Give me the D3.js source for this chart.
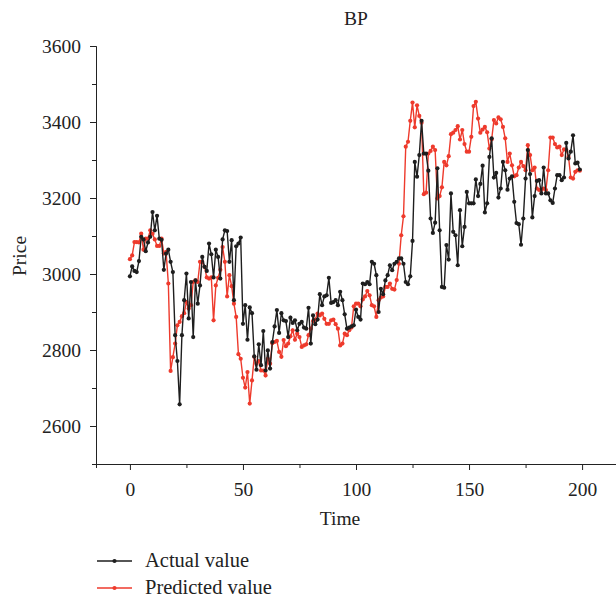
<!DOCTYPE html>
<html>
<head>
<meta charset="utf-8">
<script src="https://cdn.jsdelivr.net/npm/d3@7"></script>
<style>
body { margin: 0; background: #fff; }
text { font-family: "Liberation Serif", "DejaVu Serif", serif; fill: #222; }
</style>
</head>
<body>
<svg></svg>
<script>
var screen = {width: 616, height: 603};
var margins = {top: 46, right: 0, bottom: 139, left: 96};

var title = "BP";
var xTicks = [0, 50, 100, 150, 200];
var yTicks = [2600, 2800, 3000, 3200, 3400, 3600];
var seriesNames = ["Actual value", "Predicted value"];
var seriesColors = ["#1e1e1e", "#ee3a2c"];

// actual price, one value per time step (0..199)
var actual = [
 2994, 3020, 3008, 3005, 3034, 3098, 3091, 3060, 3083, 3098,
 3163, 3115, 3153, 3093, 3090, 3011, 3054, 3064, 3032, 3005,
 2839, 2771, 2657, 2839, 2931, 3001, 2883, 2979, 2834, 2983,
 2922, 2970, 3045, 3019, 3008, 3080, 3052, 2991, 3064, 3045,
 2988, 3091, 3115, 3113, 3032, 3089, 2931, 3073, 3080, 3096,
 2869, 2918, 2827, 2912, 2897, 2783, 2748, 2815, 2760, 2850,
 2746, 2799, 2751, 2821, 2862, 2905, 2845, 2897, 2878, 2876,
 2834, 2885, 2871, 2878, 2852, 2869, 2874, 2859, 2856, 2911,
 2817, 2891, 2868, 2880, 2947, 2918, 2941, 2944, 2990, 2924,
 2926, 2931, 2918, 2953, 2931, 2894, 2856, 2859, 2862, 2865,
 2906, 2887, 2880, 2975, 2973, 2979, 2973, 3032, 3027, 2997,
 2900, 2961, 2947, 2983, 2997, 3023, 3010, 3027, 3032, 3041,
 3041, 3027, 2979, 2973, 2994, 3087, 3295, 3256, 3313, 3403,
 3317, 3317, 3272, 3146, 3108, 3135, 3278, 3115, 2966, 2964,
 3076, 3038, 3212, 3111, 3102, 3023, 3168, 3073, 3124, 3216,
 3186, 3186, 3186, 3249, 3205, 3237, 3285, 3162, 3186, 3308,
 3357, 3254, 3266, 3201, 3225, 3295, 3273, 3222, 3251, 3257,
 3190, 3134, 3131, 3077, 3146, 3251, 3326, 3263, 3149, 3205,
 3245, 3247, 3212, 3280, 3212, 3212, 3194, 3187, 3225, 3260,
 3260, 3247, 3254, 3345, 3304, 3322, 3365, 3291, 3293, 3275
];

// model prediction for the same steps
var predicted = [
 3039, 3049, 3084, 3084, 3083, 3106, 3064, 3093, 3093, 3115,
 3106, 3091, 3074, 3074, 3093, 3054, 3058, 2975, 2745, 2781,
 2817, 2865, 2874, 2889, 2897, 2926, 2909, 2918, 2979, 2983,
 2979, 3032, 3032, 3019, 2991, 2988, 2991, 2878, 2970, 2990,
 3011, 3071, 3032, 2941, 2997, 2968, 2922, 2887, 2789, 2777,
 2727, 2701, 2742, 2659, 2720, 2782, 2764, 2771, 2746, 2746,
 2733, 2777, 2764, 2818, 2821, 2824, 2795, 2782, 2826, 2810,
 2817, 2836, 2852, 2827, 2843, 2834, 2808, 2812, 2815, 2839,
 2856, 2876, 2880, 2896, 2891, 2896, 2882, 2869, 2869, 2878,
 2880, 2868, 2856, 2812, 2817, 2843, 2839, 2852, 2859, 2915,
 2922, 2922, 2915, 2933, 2941, 2955, 2944, 2918, 2915, 2887,
 2931, 2938, 2941, 2966, 2966, 2975, 2961, 2959, 2984, 3027,
 3102, 3152, 3335, 3348, 3403, 3451, 3386, 3444, 3416, 3398,
 3210, 3214, 3317, 3324, 3335, 3326, 3199, 3205, 3228, 3295,
 3286, 3310, 3368, 3372, 3379, 3389, 3354, 3379, 3342, 3322,
 3322, 3361, 3442, 3453, 3409, 3372, 3380, 3387, 3373, 3330,
 3354, 3405, 3396, 3412, 3407, 3387, 3357, 3295, 3317, 3286,
 3257, 3260, 3280, 3295, 3284, 3273, 3339, 3313, 3273, 3280,
 3225, 3221, 3221, 3225, 3221, 3273, 3359, 3359, 3342, 3333,
 3335, 3313, 3328, 3326, 3308, 3254, 3251, 3269, 3273, 3272
];

var setup = function()
{
    var svg = d3.select("svg")
        .attr("width", screen.width)
        .attr("height", screen.height);

    var width = screen.width - margins.left - margins.right;
    var height = screen.height - margins.top - margins.bottom;

    var xScale = d3.scaleLinear().domain([-15, 215]).range([0, width]);
    var yScale = d3.scaleLinear().domain([2500, 3600]).range([height, 0]);

    var graph = svg.append("g")
        .attr("id", "graph")
        .attr("transform", "translate(" + margins.left + "," + margins.top + ")");

    // minor ticks first, then the labelled ones on top
    var xMinor = d3.axisBottom(xScale).tickValues([25, 75, 125, 175]).tickSize(4).tickFormat("");
    var yMinor = d3.axisLeft(yScale).tickValues([2700, 2900, 3100, 3300, 3500]).tickSize(4).tickFormat("");
    var xAxis = d3.axisBottom(xScale).tickValues(xTicks).tickSize(6).tickSizeOuter(0)
        .tickPadding(12).tickFormat(d3.format("d"));
    var yAxis = d3.axisLeft(yScale).tickValues(yTicks).tickSize(6).tickSizeOuter(0)
        .tickPadding(9).tickFormat(d3.format("d"));

    graph.append("g").attr("transform", "translate(0," + height + ")").call(xMinor);
    graph.append("g").call(yMinor);
    graph.append("g").attr("class", "axis").attr("transform", "translate(0," + height + ")").call(xAxis);
    graph.append("g").attr("class", "axis").call(yAxis);

    graph.selectAll(".domain").attr("stroke", "#222");
    graph.selectAll(".tick line").attr("stroke", "#222");
    graph.selectAll(".axis text")
        .style("font-family", "'Liberation Serif', serif")
        .style("font-size", "19.5px")
        .attr("fill", "#222");

    svg.append("text")
        .attr("x", margins.left + width / 2)
        .attr("y", 25)
        .attr("text-anchor", "middle")
        .style("font-size", "19.5px")
        .text(title);

    svg.append("text")
        .attr("x", margins.left + xScale(100) - 16)
        .attr("y", 525)
        .attr("text-anchor", "middle")
        .style("font-size", "19.5px")
        .text("Time");

    svg.append("text")
        .attr("transform", "translate(26,256) rotate(-90)")
        .attr("text-anchor", "middle")
        .style("font-size", "19.5px")
        .text("Price");

    drawSeries(graph, xScale, yScale, predicted, seriesColors[1]);
    drawSeries(graph, xScale, yScale, actual, seriesColors[0]);
    drawLegend(svg);
}

var drawSeries = function(graph, xScale, yScale, values, color)
{
    var line = d3.line()
        .x(function(d, i){ return xScale(i); })
        .y(function(d){ return yScale(d); });

    graph.append("path")
        .datum(values)
        .attr("fill", "none")
        .attr("stroke", color)
        .attr("stroke-width", 1.4)
        .attr("d", line);

    graph.append("g")
        .selectAll("circle")
        .data(values)
        .enter()
        .append("circle")
        .attr("cx", function(d, i){ return xScale(i); })
        .attr("cy", function(d){ return yScale(d); })
        .attr("r", 2.1)
        .attr("fill", color);
}

var drawLegend = function(svg)
{
    var rows = svg.append("g")
        .selectAll("g")
        .data(seriesNames)
        .enter()
        .append("g")
        .attr("transform", function(d, i){ return "translate(97," + (561 + i * 27) + ")"; });

    rows.append("line")
        .attr("x1", 0).attr("x2", 35)
        .attr("stroke", function(d, i){ return seriesColors[i]; })
        .attr("stroke-width", 1.4);

    rows.append("circle")
        .attr("cx", 17.5)
        .attr("r", 2.1)
        .attr("fill", function(d, i){ return seriesColors[i]; });

    rows.append("text")
        .attr("x", 48)
        .attr("y", 6)
        .style("font-size", "20.5px")
        .text(function(d){ return d; });
}

setup();
</script>
</body>
</html>
